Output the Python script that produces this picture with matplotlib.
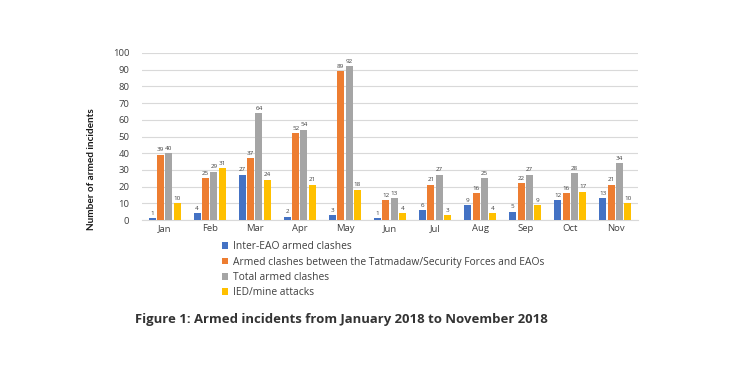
import numpy as np
import matplotlib
matplotlib.use("Agg")
import matplotlib.pyplot as plt
from matplotlib.patches import Patch

plt.rcParams['font.family'] = ['Open Sans', 'DejaVu Sans']

months = ["Jan", "Feb", "Mar", "Apr", "May", "Jun", "Jul", "Aug", "Sep", "Oct", "Nov"]
inter_eao = [1, 4, 27, 2, 3, 1, 6, 9, 5, 12, 13]
tatmadaw = [39, 25, 37, 52, 89, 12, 21, 16, 22, 16, 21]
total = [40, 29, 64, 54, 92, 13, 27, 25, 27, 28, 34]
ied = [10, 31, 24, 21, 18, 4, 3, 4, 9, 17, 10]
series_names = ["Inter-EAO armed clashes",
                "Armed clashes between the Tatmadaw/Security Forces and EAOs",
                "Total armed clashes",
                "IED/mine attacks"]
colors = ["#4472C4", "#ED7D31", "#A5A5A5", "#FFC000"]

fig = plt.figure(figsize=(7.3, 3.65), dpi=100)
ax = fig.add_axes([0.1945, 0.397, 0.6795, 0.458])

x = np.arange(len(months))
step = 0.185
width = 0.155
all_series = [inter_eao, tatmadaw, total, ied]
for i, vals in enumerate(all_series):
    pos = x + (i - 1.5) * step
    ax.bar(pos, vals, width=width, color=colors[i], zorder=3)
    for p, v in zip(pos, vals):
        ax.text(p, v + 1.5, str(v), ha="center", va="bottom", fontsize=4.5, color="#404040")

ax.set_xlim(-0.5, len(months) - 0.5)
ax.set_ylim(0, 100)
ax.set_yticks(range(0, 101, 10))
ax.set_xticks(x)
ax.set_xticklabels(months)
ax.tick_params(axis="both", length=0, labelsize=6.8, labelcolor="#404040")
ax.tick_params(axis="y", pad=9)
ax.tick_params(axis="x", pad=3)
ax.grid(axis="y", color="#D9D9D9", linewidth=0.8, zorder=0)
for s in ["top", "right", "left"]:
    ax.spines[s].set_visible(False)
ax.spines["bottom"].set_color("#D9D9D9")

# y label sits lower than the axes centre in the original
fig.text(92 / 730, 1 - 169 / 365, "Number of armed incidents", rotation=90,
         ha="center", va="center", fontsize=7.2, fontweight="bold",
         color="#1a1a1a", family=["Lato", "DejaVu Sans"])

handles = [Patch(facecolor=c) for c in colors]
fig.legend(handles, series_names, loc="upper left", bbox_to_anchor=(0.292, 0.364),
           frameon=False, fontsize=7.35, handlelength=0.6, handleheight=0.6,
           handletextpad=0.4, labelspacing=0.42, labelcolor="#404040")

fig.text(0.185, 0.115, "Figure 1: Armed incidents from January 2018 to November 2018",
         fontsize=9.45, fontweight="bold", color="#333333")

fig.savefig("out.png", dpi=100, facecolor="white")
